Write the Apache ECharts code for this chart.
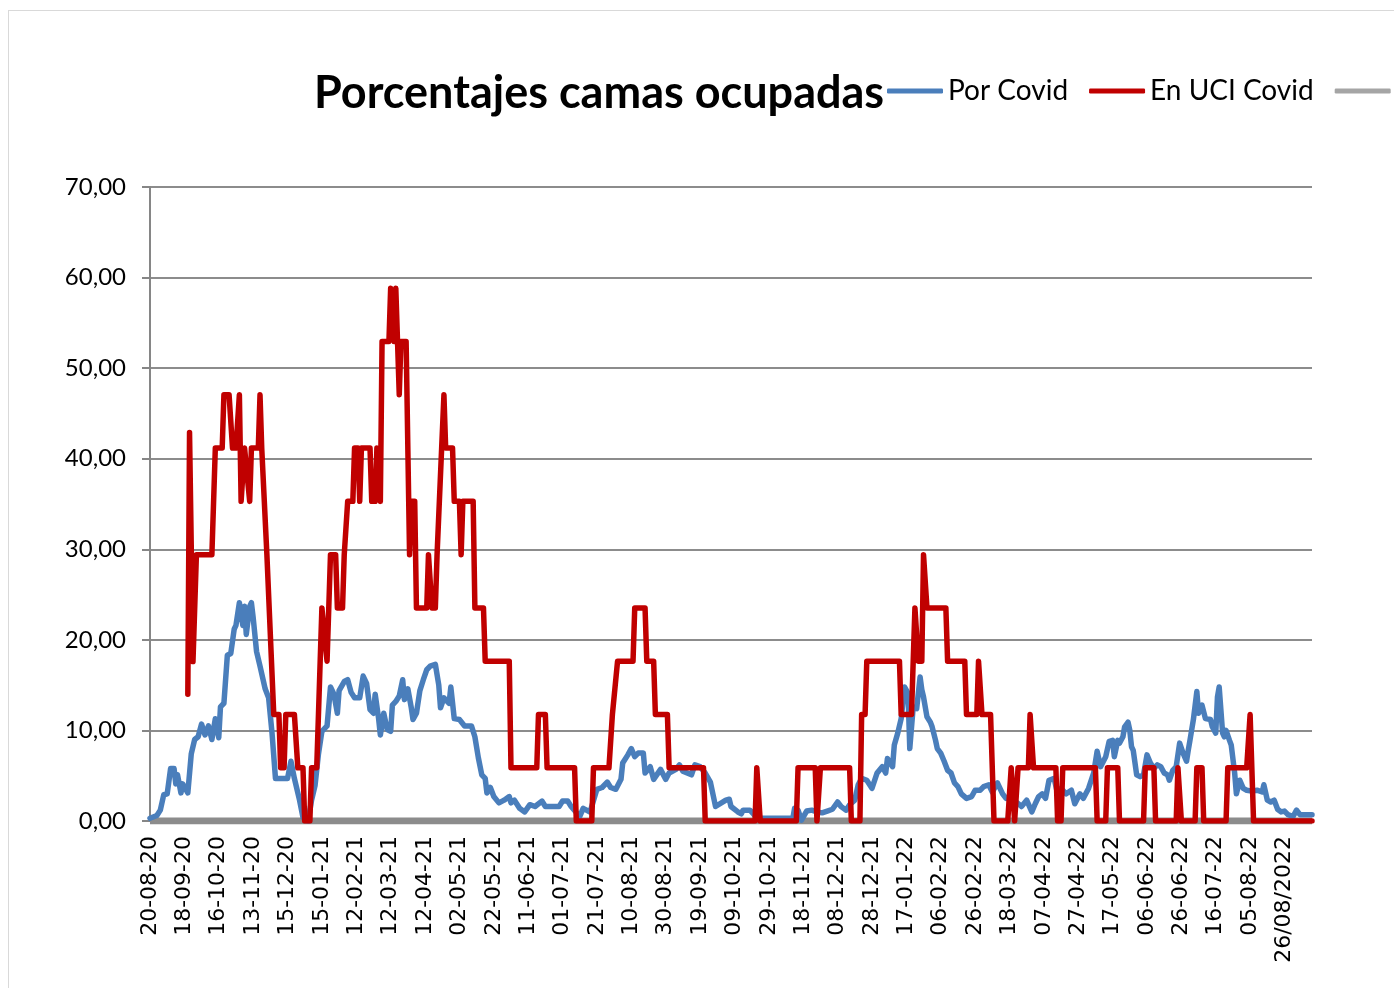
<!DOCTYPE html>
<html>
<head>
<meta charset="utf-8">
<script src="https://cdn.jsdelivr.net/npm/echarts@6/dist/echarts.min.js"></script>
<style>
  html, body { margin: 0; padding: 0; background: #fff; overflow: hidden; width: 1394px; height: 988px; }
  #frame { position: absolute; left: 8px; top: 10px; width: 1500px; height: 1100px; border: 1px solid #d9d9d9; }
  #chart { position: absolute; left: 0; top: 0; width: 1600px; height: 988px; }
</style>
</head>
<body>
<div id="frame"></div>
<div id="chart"></div>
<script>
// Tick labels shown every 20 rows on the category axis
const tickLabels = ['20-08-20','18-09-20','16-10-20','13-11-20','15-12-20','15-01-21','12-02-21','12-03-21','12-04-21','02-05-21','22-05-21','11-06-21','01-07-21','21-07-21','10-08-21','30-08-21','19-09-21','09-10-21','29-10-21','18-11-21','08-12-21','28-12-21','17-01-22','06-02-22','26-02-22','18-03-22','07-04-22','27-04-22','17-05-22','06-06-22','26-06-22','16-07-22','05-08-22','26/08/2022'];
const rowCount = 677;
const labelStep = 20;

// Series values as [row, value] pairs
const porCovid = [[0,0.3],[4,0.6],[6,1.2],[8,2.9],[10,3.0],[12,5.8],[14,5.8],[15,4.1],[16,5.1],[18,3.1],[19,4.1],[22,3.1],[24,7.4],[26,9.0],[28,9.3],[30,10.7],[32,9.5],[34,10.5],[36,9.0],[38,11.3],[40,9.2],[41,12.6],[43,13.0],[45,18.3],[47,18.5],[49,21.2],[50,21.6],[52,24.1],[54,21.6],[55,23.7],[56,20.6],[58,23.7],[59,24.1],[60,22.5],[62,18.7],[64,17.1],[65,16.9],[67,14.6],[69,13.6],[71,9.7],[73,4.7],[80,4.7],[82,6.6],[84,4.7],[87,2.3],[89,0.4],[92,0.0],[94,2.3],[96,3.9],[98,7.4],[100,9.9],[103,10.5],[105,14.8],[107,14.0],[109,11.9],[110,14.4],[113,15.4],[115,15.6],[117,14.2],[119,13.6],[122,13.6],[124,16.0],[126,15.2],[128,12.3],[130,11.9],[131,14.0],[133,11.3],[134,9.5],[136,11.9],[138,10.1],[140,9.9],[141,12.8],[143,13.2],[145,13.8],[147,15.6],[148,13.4],[150,14.6],[152,12.5],[153,11.2],[155,11.9],[157,14.4],[159,15.6],[161,16.7],[163,17.1],[166,17.3],[168,15.0],[169,12.5],[171,13.6],[174,13.0],[175,14.8],[177,11.3],[180,11.2],[183,10.5],[187,10.5],[189,9.3],[191,7.0],[193,5.1],[195,4.7],[196,3.1],[198,3.7],[200,2.7],[203,2.0],[206,2.3],[209,2.7],[210,2.0],[212,2.3],[215,1.4],[218,1.0],[221,1.8],[224,1.6],[228,2.2],[230,1.6],[238,1.6],[240,2.2],[243,2.2],[245,1.6],[250,0.5],[252,1.4],[256,1.0],[260,3.5],[263,3.7],[266,4.3],[268,3.7],[271,3.5],[274,4.6],[275,6.4],[278,7.3],[280,8.0],[282,7.1],[284,7.5],[287,7.5],[288,5.3],[291,6.0],[293,4.6],[297,5.7],[300,4.6],[302,5.3],[306,5.7],[308,6.2],[310,5.5],[315,5.1],[317,6.2],[320,6.0],[323,5.3],[326,4.3],[329,1.6],[335,2.3],[337,2.4],[338,1.6],[342,1.0],[344,0.8],[345,1.2],[349,1.2],[351,0.8],[353,0.3],[374,0.3],[375,1.4],[377,1.2],[379,0.1],[382,1.1],[385,1.2],[388,1.0],[391,0.9],[394,1.1],[397,1.3],[400,2.1],[402,1.6],[405,1.2],[407,1.8],[410,2.3],[412,4.0],[414,4.7],[417,4.5],[420,3.6],[423,5.3],[426,6.0],[428,5.3],[429,6.9],[432,6.0],[433,8.4],[435,9.7],[437,11.3],[439,14.8],[441,14.1],[442,8.0],[444,12.6],[446,12.4],[448,15.9],[449,14.5],[450,13.7],[452,11.5],[454,10.9],[455,10.4],[457,8.9],[458,8.0],[460,7.5],[462,6.6],[464,5.6],[466,5.3],[468,4.2],[470,3.8],[472,3.0],[475,2.5],[478,2.7],[480,3.4],[483,3.4],[485,3.8],[488,4.0],[490,3.2],[493,4.2],[496,3.0],[498,2.5],[501,2.7],[504,2.1],[507,1.6],[510,2.3],[513,1.0],[515,1.9],[517,2.7],[519,3.0],[521,2.5],[523,4.5],[526,4.7],[528,3.0],[530,3.6],[533,3.0],[536,3.4],[538,1.9],[541,3.0],[543,2.5],[546,3.6],[549,5.3],[551,7.7],[553,6.0],[556,7.1],[558,8.8],[560,8.9],[561,7.1],[563,8.9],[564,8.6],[566,9.3],[567,10.4],[569,10.9],[570,10.0],[571,8.2],[572,7.8],[574,5.1],[576,4.9],[578,5.1],[580,7.3],[582,6.4],[584,5.8],[586,6.2],[588,6.0],[590,5.3],[592,5.1],[593,4.5],[595,5.6],[597,6.0],[599,8.6],[601,7.5],[603,6.6],[604,7.8],[605,8.9],[607,11.2],[609,14.3],[610,11.9],[612,12.8],[614,11.3],[617,11.2],[618,10.4],[620,9.7],[621,13.7],[622,14.8],[624,9.7],[625,9.3],[626,10.0],[628,8.9],[629,8.4],[631,5.3],[632,3.0],[634,4.5],[636,3.6],[638,3.4],[641,3.3],[644,3.4],[647,3.2],[648,4.0],[650,2.3],[652,2.1],[654,2.3],[656,1.3],[658,1.0],[660,1.1],[662,0.7],[665,0.5],[667,1.2],[669,0.7],[676,0.7]];

const enUciCovid = [[22,14.0],[23,42.9],[25,17.6],[27,29.41],[36,29.41],[38,41.18],[42,41.18],[43,47.06],[46,47.06],[48,41.18],[50,41.18],[52,47.06],[53,35.29],[55,41.18],[58,35.29],[59,41.18],[63,41.18],[64,47.06],[65,41.18],[66,41.18],[68,29.41],[69,29.41],[72,11.76],[75,11.76],[76,5.88],[78,5.88],[79,11.76],[84,11.76],[86,5.88],[89,5.88],[90,0],[93,0],[94,5.88],[97,5.88],[98,11.76],[99,11.76],[100,23.53],[103,17.65],[105,29.41],[108,29.41],[109,23.53],[112,23.53],[113,29.41],[114,29.41],[115,35.29],[118,35.29],[119,41.18],[121,41.18],[122,35.29],[123,41.18],[128,41.18],[129,35.29],[131,35.29],[132,41.18],[133,41.18],[134,35.29],[135,52.94],[139,52.94],[140,58.82],[141,58.82],[142,52.94],[143,58.82],[144,58.82],[145,47.06],[146,52.94],[149,52.94],[151,29.41],[152,35.29],[154,35.29],[155,23.53],[161,23.53],[162,29.41],[164,23.53],[166,23.53],[167,29.41],[171,47.06],[172,41.18],[176,41.18],[177,35.29],[180,35.29],[181,29.41],[182,35.29],[188,35.29],[189,23.53],[194,23.53],[195,17.65],[209,17.65],[210,5.88],[225,5.88],[226,11.76],[230,11.76],[231,5.88],[247,5.88],[248,0],[257,0],[258,5.88],[267,5.88],[269,11.76],[272,17.65],[281,17.65],[282,23.53],[288,23.53],[289,17.65],[293,17.65],[294,11.76],[301,11.76],[302,5.88],[322,5.88],[323,0],[352,0],[353,5.88],[354,5.88],[355,0],[376,0],[377,5.88],[387,5.88],[388,0],[389,0],[390,5.88],[407,5.88],[408,0],[413,0],[414,11.76],[416,11.76],[417,17.65],[436,17.65],[437,11.76],[443,11.76],[444,17.65],[445,23.53],[447,17.65],[449,17.65],[450,29.41],[451,29.41],[452,23.53],[463,23.53],[464,17.65],[474,17.65],[475,11.76],[481,11.76],[482,17.65],[483,17.65],[484,11.76],[489,11.76],[491,0],[499,0],[501,5.88],[503,0],[505,5.88],[511,5.88],[512,11.76],[514,5.88],[527,5.88],[528,0],[530,0],[531,5.88],[550,5.88],[551,0],[556,0],[557,5.88],[563,5.88],[564,0],[578,0],[579,5.88],[584,5.88],[585,0],[597,0],[598,5.88],[599,5.88],[600,0],[608,0],[609,5.88],[612,5.88],[613,0],[626,0],[627,5.88],[638,5.88],[640,11.76],[642,0],[676,0]];

const serie3 = [[0,0],[676,0]];

const seriesNames = ['Por Covid', 'En UCI Covid', 'Serie3'];
const yTicks = { min: 0, max: 70, interval: 10 };

const categories = Array.from({ length: rowCount }, (_, i) =>
  i % labelStep === 0 && tickLabels[i / labelStep] !== undefined ? tickLabels[i / labelStep] : '');

const chart = echarts.init(document.getElementById('chart'), null, { renderer: 'canvas' });
chart.setOption({
  animation: false,
  backgroundColor: 'transparent',
  title: {
    text: 'Porcentajes camas ocupadas',
    left: 309, top: 66,
    textStyle: { fontFamily: 'Lato', fontWeight: 'bold', fontSize: 45, color: '#000' }
  },
  legend: {
    left: 882, top: 72,
    itemWidth: 56, itemHeight: 5, itemGap: 21,
    icon: 'roundRect',
    textStyle: { fontFamily: 'Lato', fontSize: 28, color: '#000' },
    data: seriesNames
  },
  grid: { left: 150, right: 1600 - 1312, top: 187, bottom: 988 - 821, containLabel: false },
  xAxis: {
    type: 'category',
    data: categories,
    boundaryGap: false,
    axisLine: { show: true, lineStyle: { color: '#868686', width: 2 } },
    axisTick: { show: false },
    axisLabel: {
      interval: (i) => i % labelStep === 0,
      rotate: 90, margin: 15,
      fontFamily: 'DejaVu Sans', fontSize: 22, color: '#000'
    },
    splitLine: { show: false }
  },
  yAxis: {
    type: 'value',
    min: yTicks.min, max: yTicks.max, interval: yTicks.interval,
    axisLine: { show: true, lineStyle: { color: '#868686', width: 2 } },
    axisTick: { show: true, inside: false, length: 8, lineStyle: { color: '#868686', width: 2 } },
    axisLabel: {
      margin: 24,
      fontFamily: 'Lato', fontSize: 24, color: '#000',
      formatter: (v) => v.toFixed(2).replace('.', ',')
    },
    splitLine: { show: true, lineStyle: { color: '#8c8c8c', width: 2 } }
  },
  series: [
    { name: seriesNames[0], type: 'line', data: porCovid, showSymbol: false, symbol: 'none',
      color: '#4a7ebb', lineStyle: { width: 5.5, color: '#4a7ebb', join: 'round', cap: 'round' }, z: 3 },
    { name: seriesNames[1], type: 'line', data: enUciCovid, showSymbol: false, symbol: 'none',
      color: '#c00000', lineStyle: { width: 5.5, color: '#c00000', join: 'round', cap: 'round' }, z: 4 },
    { name: seriesNames[2], type: 'line', data: serie3, showSymbol: false, symbol: 'none',
      color: '#a5a5a5', lineStyle: { width: 7, color: '#8c8c8c' }, z: 2 }
  ]
});
</script>
</body>
</html>
